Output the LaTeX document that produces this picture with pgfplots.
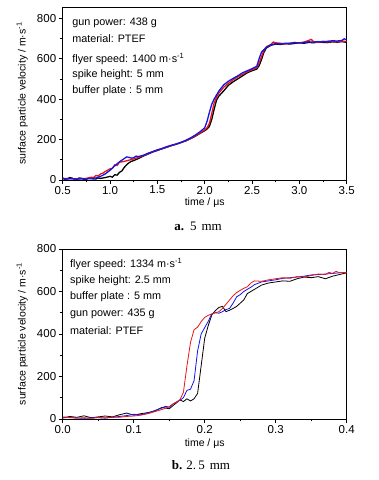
\documentclass[border=0pt]{standalone}
\usepackage{pgfplots}
\pgfplotsset{compat=1.18}
\usepackage{fontspec}
\setmainfont{Liberation Sans}
\newfontfamily\capfont{Liberation Serif}
\definecolor{pred}{RGB}{235,20,20}
\definecolor{pblue}{RGB}{20,20,235}
\tikzset{annot/.style={anchor=west,inner xsep=0pt,font=\fontsize{10.8}{12}\selectfont}}
\begin{document}
\begin{tikzpicture}
\useasboundingbox (0pt,0pt) rectangle (379pt,480pt);
\pgfplotsset{
  mystyle/.style={
    scale only axis,
    width=284pt,
    anchor=south west,
    axis line style={line width=0.6pt},
    tick align=outside,
    tick pos=left,
    major tick length=4pt,
    minor tick length=2.5pt,
    tick style={line width=0.6pt,black},
    minor x tick num=1,
    minor y tick num=1,
    ymin=0,
    ytick={0,200,400,600,800},
    /pgf/number format/assume math mode=true,
    ticklabel style={font=\fontsize{11.5}{13}\selectfont},
    yticklabel style={xshift=1pt},
    xticklabel style={yshift=1.5pt},
    label style={font=\fontsize{10.5}{12}\selectfont},
    ylabel={surface particle velocity / m·s\textsuperscript{-1}},
    xlabel={time / μs},
    ylabel style={at={(axis description cs:-0.143,0.5)},anchor=center},
  },
}
% ---------------- panel a ----------------
\begin{axis}[mystyle,
  at={(62.7pt,300pt)}, height=173pt,
  xmin=0.5, xmax=3.5, ymax=855,
  xtick={0.5,1.0,1.5,2.0,2.5,3.0,3.5},
  xticklabels={0.5,1.0,1.5,2.0,2.5,3.0,3.5},
  xlabel style={at={(axis description cs:0.5,-0.13)},anchor=center},
]
\addplot[black,line width=1.3pt] coordinates {
(0.50,10)(0.525,4)(0.55,6)(0.575,12)(0.60,9)(0.625,3)(0.65,5)(0.675,10)(0.70,8)(0.725,2)(0.75,4)(0.775,9)(0.80,6)(0.85,5)(0.875,10)(0.90,8)(0.95,12)
(1.00,18)(1.025,14)(1.05,26)(1.075,24)(1.10,38)(1.125,45)(1.15,62)(1.175,75)(1.20,85)(1.225,92)(1.25,96)(1.30,106)
(1.35,118)(1.40,128)(1.45,138)(1.50,146)(1.55,154)(1.60,162)(1.65,170)(1.70,177)
(1.75,185)(1.80,193)(1.85,204)(1.90,216)(1.95,230)(2.00,244)(2.025,252)(2.05,265)
(2.075,300)(2.10,350)(2.125,395)(2.15,415)(2.20,440)(2.25,468)(2.30,485)(2.35,500)
(2.40,515)(2.45,530)(2.50,540)(2.55,548)(2.575,565)(2.60,595)(2.625,630)(2.65,652)
(2.70,666)(2.75,672)(2.80,670)(2.85,674)(2.90,672)(2.95,675)(3.00,678)(3.05,676)
(3.10,680)(3.15,678)(3.20,682)(3.25,680)(3.30,679)(3.35,683)(3.40,681)(3.45,684)(3.50,680)
};
\addplot[pred,line width=1.3pt] coordinates {
(0.50,5)(0.55,8)(0.60,6)(0.65,4)(0.70,7)(0.75,8)(0.80,14)(0.825,12)(0.85,22)(0.875,20)(0.90,30)(0.925,34)(0.95,42)
(1.00,55)(1.025,58)(1.05,75)(1.075,72)(1.10,88)(1.15,92)(1.20,98)(1.25,104)(1.30,112)(1.35,120)(1.40,130)
(1.45,140)(1.50,148)(1.55,155)(1.60,163)(1.65,170)(1.70,178)(1.75,186)(1.80,194)
(1.85,205)(1.90,218)(1.95,232)(2.00,248)(2.025,258)(2.05,280)(2.075,330)(2.10,380)
(2.125,410)(2.15,430)(2.20,458)(2.25,478)(2.30,495)(2.35,510)(2.40,522)(2.45,535)
(2.50,545)(2.55,555)(2.575,578)(2.60,610)(2.625,640)(2.65,658)(2.70,670)(2.725,682)(2.75,678)
(2.80,676)(2.85,672)(2.90,676)(2.95,680)(3.00,676)(3.05,682)(3.10,690)(3.125,695)(3.15,684)
(3.20,680)(3.25,686)(3.30,682)(3.35,685)(3.40,683)(3.45,687)(3.50,684)
};
\addplot[pblue,line width=1.3pt] coordinates {
(0.50,8)(0.55,5)(0.60,7)(0.65,4)(0.70,6)(0.75,5)(0.80,8)(0.85,10)(0.90,18)(0.95,30)
(1.00,48)(1.05,70)(1.10,90)(1.15,106)(1.175,114)(1.20,112)(1.225,108)(1.25,110)(1.275,118)(1.30,116)(1.35,122)(1.40,132)
(1.45,140)(1.50,149)(1.55,156)(1.60,165)(1.65,172)(1.70,178)(1.75,186)(1.80,196)
(1.85,208)(1.90,222)(1.95,238)(2.00,258)(2.025,290)(2.05,335)(2.075,375)(2.10,400)
(2.125,420)(2.15,440)(2.20,470)(2.25,488)(2.30,502)(2.35,515)(2.40,530)(2.45,540)
(2.50,550)(2.55,562)(2.575,600)(2.60,632)(2.65,655)(2.70,668)(2.75,674)(2.80,672)
(2.85,676)(2.90,675)(2.95,679)(3.00,678)(3.05,680)(3.10,683)(3.15,681)(3.20,684)
(3.25,682)(3.30,686)(3.35,688)(3.40,687)(3.45,690)(3.475,698)(3.50,692)
};
\node[annot] at (axis cs:0.60,777) {gun power: 438 g};
\node[annot] at (axis cs:0.60,700) {material: PTEF};
\node[annot] at (axis cs:0.60,600) {flyer speed: 1400 m·s\textsuperscript{-1}};
\node[annot] at (axis cs:0.60,519) {spike height: 5 mm};
\node[annot] at (axis cs:0.60,440) {buffer plate : 5 mm};
\end{axis}
% ---------------- panel b ----------------
\begin{axis}[mystyle,
  at={(62.7pt,61pt)}, height=170pt,
  xmin=0, xmax=0.4, ymax=800,
  xtick={0,0.1,0.2,0.3,0.4},
  xticklabels={0.0,0.1,0.2,0.3,0.4},
  xlabel style={at={(axis description cs:0.5,-0.147)},anchor=center},
]
\addplot[black,line width=0.8pt] coordinates {
(0.000,5)(0.010,12)(0.020,8)(0.030,15)(0.040,6)(0.050,10)(0.060,14)(0.070,10)(0.080,20)
(0.090,28)(0.100,18)(0.110,25)(0.120,30)(0.130,38)(0.140,55)(0.150,48)(0.155,62)
(0.160,75)(0.165,90)(0.170,82)(0.175,95)(0.180,85)(0.185,95)(0.190,120)(0.195,250)
(0.200,380)(0.205,440)(0.210,490)(0.215,510)(0.220,525)(0.225,530)(0.230,505)
(0.235,512)(0.240,520)(0.245,530)(0.250,545)(0.255,560)(0.260,590)(0.265,600)
(0.270,610)(0.280,630)(0.290,640)(0.300,645)(0.310,650)(0.320,648)(0.330,660)
(0.340,668)(0.350,665)(0.360,670)(0.370,660)(0.380,672)(0.390,680)(0.400,688)
};
\addplot[pblue,line width=0.8pt] coordinates {
(0.000,10)(0.010,6)(0.020,5)(0.030,3)(0.040,5)(0.050,6)(0.060,4)(0.070,8)(0.080,12)
(0.090,16)(0.100,22)(0.110,20)(0.120,28)(0.130,40)(0.140,52)(0.145,60)(0.150,55)
(0.155,70)(0.160,80)(0.165,88)(0.170,100)(0.175,135)(0.180,140)(0.185,180)(0.190,320)
(0.195,400)(0.200,430)(0.205,460)(0.210,495)(0.215,500)(0.220,498)(0.225,505)
(0.230,515)(0.235,520)(0.240,545)(0.245,575)(0.250,585)(0.255,600)(0.260,610)
(0.265,620)(0.270,632)(0.280,645)(0.290,650)(0.300,655)(0.310,662)(0.320,665)
(0.330,668)(0.340,672)(0.350,678)(0.360,680)(0.370,682)(0.380,685)(0.390,688)(0.400,690)
};
\addplot[pred,line width=0.8pt] coordinates {
(0.000,5)(0.010,8)(0.020,4)(0.030,6)(0.040,3)(0.050,7)(0.060,5)(0.070,9)(0.080,8)
(0.090,12)(0.100,14)(0.110,18)(0.120,25)(0.130,35)(0.140,45)(0.150,58)(0.155,70)
(0.160,78)(0.165,90)(0.170,125)(0.175,250)(0.180,360)(0.185,420)(0.190,432)(0.195,458)
(0.200,478)(0.205,488)(0.210,494)(0.215,500)(0.220,505)(0.225,520)(0.230,540)
(0.235,560)(0.240,580)(0.245,595)(0.250,605)(0.255,615)(0.260,622)(0.265,640)
(0.270,650)(0.280,648)(0.290,655)(0.300,660)(0.310,665)(0.320,662)(0.330,670)
(0.340,668)(0.350,675)(0.360,682)(0.370,680)(0.375,690)(0.380,685)(0.385,695)
(0.390,688)(0.400,690)
};
\node[annot] at (axis cs:0.0103,731) {flyer speed: 1334 m·s\textsuperscript{-1}};
\node[annot] at (axis cs:0.0103,653) {spike height: 2.5 mm};
\node[annot] at (axis cs:0.0103,574) {buffer plate : 5 mm};
\node[annot] at (axis cs:0.0103,496) {gun power: 435 g};
\node[annot] at (axis cs:0.0103,418) {material: PTEF};
\end{axis}
% captions
\node[font=\capfont\fontsize{13}{15}\selectfont] at (198pt,254pt) {\textbf{a.}\hspace{6pt}5\hspace{5pt}mm};
\node[font=\capfont\fontsize{13}{15}\selectfont] at (201pt,15pt) {\textbf{b.}\hspace{4pt}2.\,5\hspace{5pt}mm};
\end{tikzpicture}
\end{document}
